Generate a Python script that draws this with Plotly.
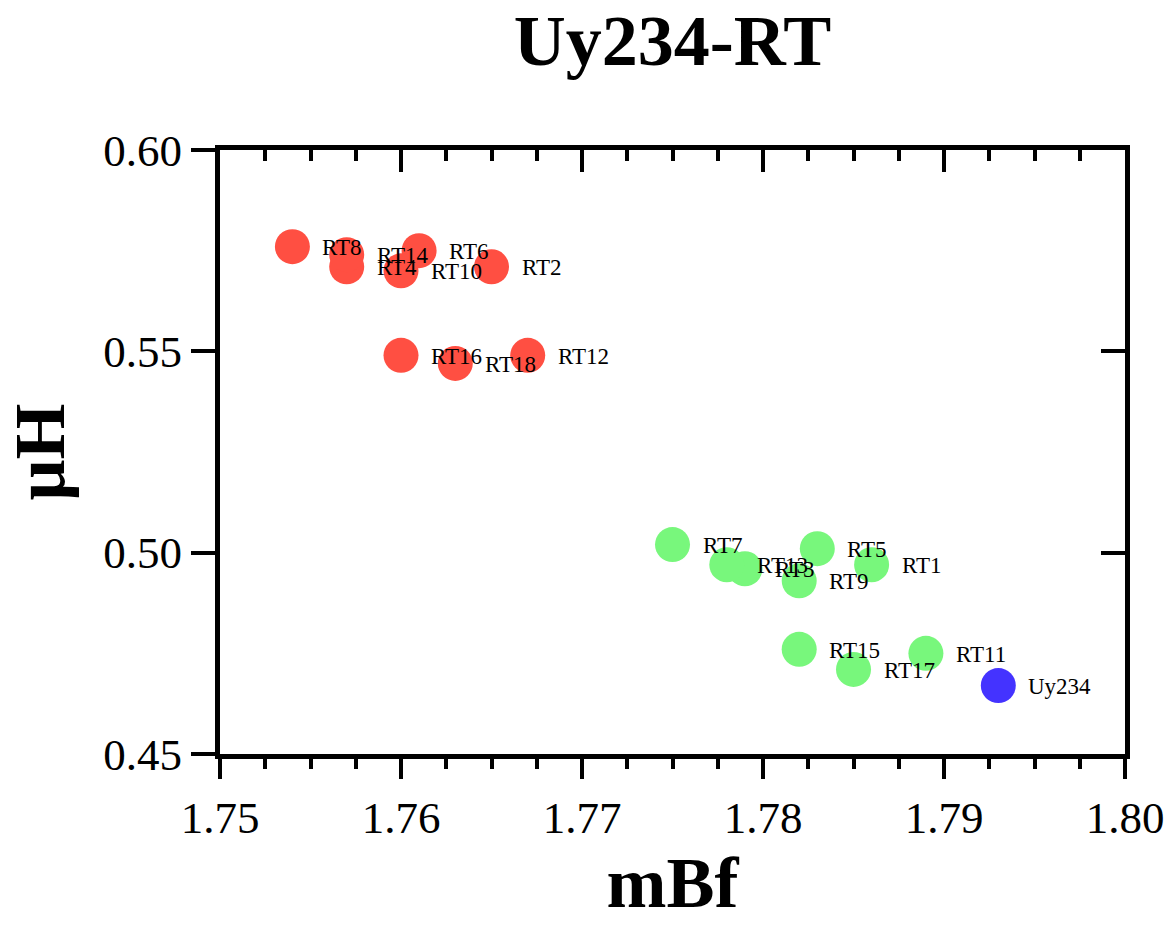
import plotly.graph_objects as go

# Data
red_names = ["RT2", "RT4", "RT6", "RT8", "RT10", "RT12", "RT14", "RT16", "RT18"]
red_x = [1.765, 1.757, 1.761, 1.754, 1.760, 1.767, 1.757, 1.760, 1.763]
red_y = [0.571, 0.571, 0.575, 0.576, 0.570, 0.549, 0.574, 0.549, 0.547]

green_names = ["RT1", "RT3", "RT5", "RT7", "RT9", "RT11", "RT13", "RT15", "RT17"]
green_x = [1.786, 1.779, 1.783, 1.775, 1.782, 1.789, 1.778, 1.782, 1.785]
green_y = [0.497, 0.496, 0.501, 0.502, 0.493, 0.475, 0.497, 0.476, 0.471]

blue_names = ["Uy234"]
blue_x = [1.793]
blue_y = [0.467]

x_ticks = [1.75, 1.76, 1.77, 1.78, 1.79, 1.80]
y_ticks = [0.45, 0.50, 0.55, 0.60]

FONT = "Liberation Serif"

fig = go.Figure()
groups = [
    (red_names, red_x, red_y, "#FF4F42"),
    (green_names, green_x, green_y, "#78F77C"),
    (blue_names, blue_x, blue_y, "#4433FF"),
]
for names, xs, ys, col in groups:
    fig.add_trace(go.Scatter(
        x=xs, y=ys, mode="markers", name="",
        marker=dict(size=35, color=col, line=dict(width=0)),
        showlegend=False, hoverinfo="skip",
    ))

# invisible trace so the mirrored (top/right) axes get drawn
fig.add_trace(go.Scatter(
    x=[blue_x[0]], y=[blue_y[0]], xaxis="x2", yaxis="y2", mode="markers",
    marker=dict(size=1, opacity=0), showlegend=False, hoverinfo="skip",
))

annotations = []
for names, xs, ys, col in groups:
    for n, xv, yv in zip(names, xs, ys):
        annotations.append(dict(
            x=xv, y=yv, xref="x", yref="y", text=n, showarrow=False,
            xanchor="left", yanchor="middle", xshift=28, yshift=-1,
            font=dict(family=FONT, size=23, color="black"),
        ))

axis_common = dict(showgrid=False, zeroline=False, showline=True,
                   linecolor="black", linewidth=5, tickcolor="black",
                   tickwidth=4, automargin=False)

fig.update_layout(
    width=1168, height=930,
    margin=dict(l=220, r=43, t=150, b=176),
    paper_bgcolor="white", plot_bgcolor="white",
    title=dict(text="Uy234-RT", x=0.5, xref="paper", y=1 - 40 / 930,
               yref="container", xanchor="center", yanchor="middle",
               font=dict(family=FONT, size=72, color="black", weight="bold")),
    annotations=annotations,
    xaxis=dict(
        range=[1.75, 1.80], tickvals=x_ticks, tickformat=".2f",
        ticks="outside", ticklen=20,
        minor=dict(ticks="outside", dtick=0.0025, tick0=1.75, ticklen=10,
                   tickwidth=4, tickcolor="black", showgrid=False),
        tickfont=dict(family=FONT, size=45, color="black"),
        title=dict(text="mBf", standoff=6,
                   font=dict(family=FONT, size=72, color="black", weight="bold")),
        **axis_common,
    ),
    xaxis2=dict(
        range=[1.75, 1.80], overlaying="x", side="top", tickvals=x_ticks,
        ticks="inside", ticklen=22, showticklabels=False,
        minor=dict(ticks="inside", dtick=0.0025, tick0=1.75, ticklen=11,
                   tickwidth=4, tickcolor="black", showgrid=False),
        **axis_common,
    ),
    yaxis=dict(
        range=[0.45, 0.60], tickvals=y_ticks, tickformat=".2f",
        ticks="outside", ticklen=24,
        tickfont=dict(family=FONT, size=45, color="black"),
        title=dict(text="μH", standoff=26,
                   font=dict(family=FONT, size=72, color="black", weight="bold")),
        **axis_common,
    ),
    yaxis2=dict(
        range=[0.45, 0.60], overlaying="y", side="right", tickvals=y_ticks,
        ticks="inside", ticklen=24, showticklabels=False,
        **axis_common,
    ),
)

fig.write_html("out.html")
